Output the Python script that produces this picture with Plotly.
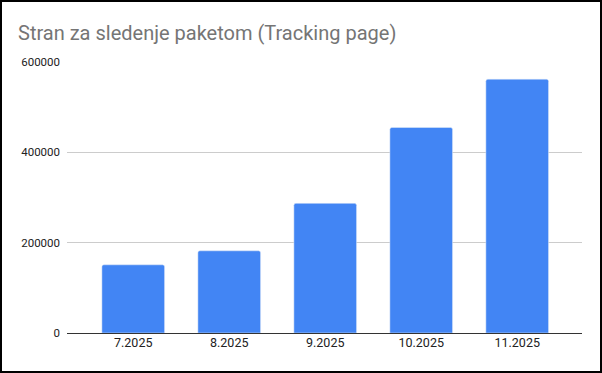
import plotly.graph_objects as go

categories = ["7.2025", "8.2025", "9.2025", "10.2025", "11.2025"]
values = [151000, 182000, 287000, 455000, 562000]
y_ticks = [0, 200000, 400000, 600000]
title_text = "Stran za sledenje paketom (Tracking page)"

W, H = 602, 373
ml, mr, mt, mb = 67, 20, 62, 40

fig = go.Figure(go.Bar(
    x=categories, y=values, marker=dict(color="#4285F4", cornerradius=2),
    hoverinfo="skip",
))

pw = W - ml - mr
ph = H - mt - mb

fig.update_layout(
    width=W, height=H,
    margin=dict(l=ml, r=mr, t=mt, b=mb),
    paper_bgcolor="white", plot_bgcolor="white",
    bargap=0.347,
    showlegend=False,
    font=dict(family="Roboto, Arial, sans-serif", color="#222222", size=11),
    title=dict(text=title_text, x=18 / W, xanchor="left", y=1 - 33 / H, yanchor="middle",
               font=dict(size=20, color="#757575", family="Roboto, Arial, sans-serif")),
    xaxis=dict(range=[-0.69, 4.675], showgrid=False, showline=False, ticks="",
               tickfont=dict(size=12.5, color="#222222"), fixedrange=True),
    yaxis=dict(range=[0, 600000], tickvals=y_ticks, ticktext=[str(v) for v in y_ticks],
               showgrid=True, gridcolor="#cccccc", gridwidth=1, zeroline=True,
               zerolinecolor="#333333", zerolinewidth=1, showline=False, ticks="",
               ticklabelstandoff=6, tickfont=dict(size=11.5, color="#222222"), fixedrange=True),
    shapes=[dict(type="rect", xref="paper", yref="paper",
                 x0=(-ml + 1) / pw, x1=1 + (mr - 1) / pw,
                 y0=(-mb + 1) / ph, y1=1 + (mt - 1) / ph,
                 line=dict(color="#000000", width=2), fillcolor="rgba(0,0,0,0)", layer="above")],
)

fig.write_html("out.html", config={"displayModeBar": False},
               post_script="document.body.style.margin='0';document.body.style.overflow='hidden';")
